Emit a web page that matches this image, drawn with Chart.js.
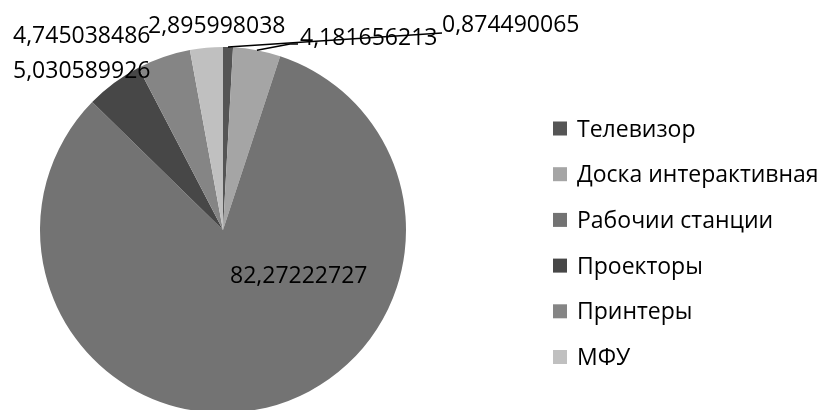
<!DOCTYPE html>
<html>
<head>
<meta charset="utf-8">
<script src="https://cdn.jsdelivr.net/npm/chart.js@4"></script>
<style>
    html, body { margin: 0; padding: 0; overflow: hidden; background: #fff; }
</style>
</head>
<body>
<canvas id="pieChart" width="819" height="420"></canvas>
<script>
const categories = ['Телевизор', 'Доска интерактивная', 'Рабочии станции', 'Проекторы', 'Принтеры', 'МФУ'];
const shares = [0.874490065, 4.181656213, 82.27222727, 5.030589926, 4.745038486, 2.895998038];

const sliceColors = ['#555555', '#a5a5a5', '#737373', '#474747', '#858585', '#c0c0c0'];

// where each value label sits (left edge, baseline) and where its leader line ends
const labelLayout = [
    { x: 442, y: 32, line: [[442, 33]] },
    { x: 300, y: 45, line: [[290, 44], [298, 44]] },
    { x: 230, y: 283 },
    { x: 13, y: 78 },
    { x: 13, y: 43 },
    { x: 148, y: 33 }
];

const fontFamily = '"Open Sans", sans-serif';

const valueLabels = {
    id: 'valueLabels',
    afterDatasetsDraw(chart) {
        const ctx = chart.ctx;
        const arcs = chart.getDatasetMeta(0).data;
        ctx.save();
        ctx.strokeStyle = '#000';
        ctx.lineWidth = 1.5;
        arcs.forEach((arc, i) => {
            const pos = labelLayout[i];
            if (!pos.line) return;
            const mid = (arc.startAngle + arc.endAngle) / 2;
            ctx.beginPath();
            ctx.moveTo(arc.x + arc.outerRadius * Math.cos(mid), arc.y + arc.outerRadius * Math.sin(mid));
            pos.line.forEach(p => ctx.lineTo(p[0], p[1]));
            ctx.stroke();
        });
        ctx.fillStyle = '#000';
        ctx.font = '23px ' + fontFamily;
        ctx.textBaseline = 'alphabetic';
        ctx.textAlign = 'left';
        shares.forEach((v, i) => {
            ctx.fillText(String(v).replace('.', ','), labelLayout[i].x, labelLayout[i].y);
        });
        ctx.restore();
    }
};

const sideLegend = {
    id: 'sideLegend',
    afterDraw(chart) {
        const ctx = chart.ctx;
        ctx.save();
        ctx.font = '23px ' + fontFamily;
        ctx.textBaseline = 'alphabetic';
        categories.forEach((name, i) => {
            const cy = 128.5 + i * 45.7;
            ctx.fillStyle = sliceColors[i];
            ctx.fillRect(553, cy - 7, 14, 14);
            ctx.fillStyle = '#000';
            ctx.fillText(name, 577, cy + 8);
        });
        ctx.restore();
    }
};

new Chart(document.getElementById('pieChart'), {
    type: 'pie',
    data: {
        labels: categories,
        datasets: [{
            data: shares,
            backgroundColor: sliceColors,
            borderWidth: 0
        }]
    },
    options: {
        responsive: false,
        animation: false,
        layout: {
            padding: { left: 40, right: 413, top: 47, bottom: 7 }
        },
        plugins: {
            legend: { display: false },
            tooltip: { enabled: false }
        }
    },
    plugins: [valueLabels, sideLegend]
});
</script>
</body>
</html>
